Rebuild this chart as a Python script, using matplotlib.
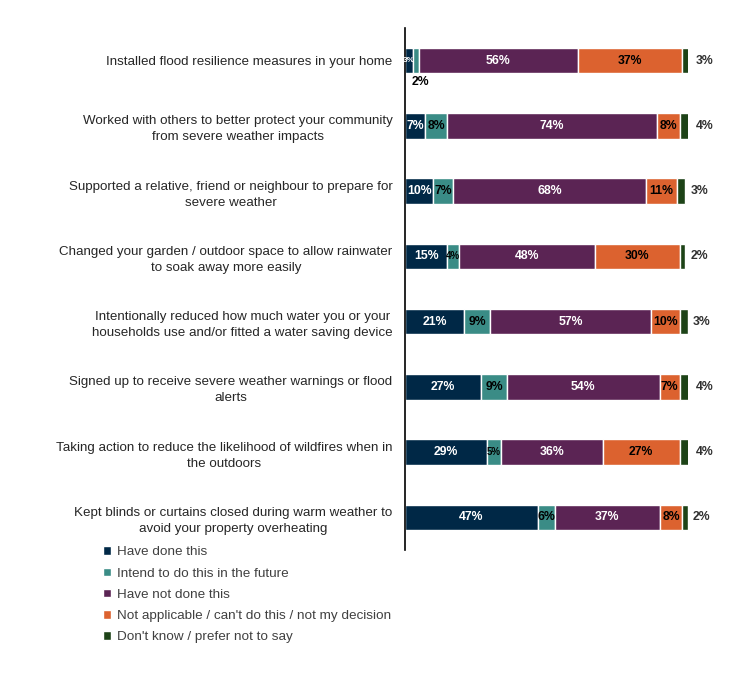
import matplotlib
matplotlib.use("Agg")
import matplotlib.pyplot as plt
import numpy as np

plt.rcParams['font.family'] = ['Liberation Sans', 'DejaVu Sans']

categories = [
    "Installed flood resilience measures in your home",
    "Worked with others to better protect your community\nfrom severe weather impacts",
    "Supported a relative, friend or neighbour to prepare for\nsevere weather",
    "Changed your garden / outdoor space to allow rainwater\nto soak away more easily",
    "Intentionally reduced how much water you or your\nhouseholds use and/or fitted a water saving device",
    "Signed up to receive severe weather warnings or flood\nalerts",
    "Taking action to reduce the likelihood of wildfires when in\nthe outdoors",
    "Kept blinds or curtains closed during warm weather to\navoid your property overheating",
]
series_names = [
    "Have done this",
    "Intend to do this in the future",
    "Have not done this",
    "Not applicable / can't do this / not my decision",
    "Don't know / prefer not to say",
]
have_done = [3, 7, 10, 15, 21, 27, 29, 47]
intend = [2, 8, 7, 4, 9, 9, 5, 6]
not_done = [56, 74, 68, 48, 57, 54, 36, 37]
not_applicable = [37, 8, 11, 30, 10, 7, 27, 8]
dont_know = [3, 4, 3, 2, 3, 4, 4, 2]

colors = ["#002846", "#3A8C86", "#5B2454", "#DC622F", "#1D4317"]
label_colors = ["white", "black", "white", "black", None]

series = [have_done, intend, not_done, not_applicable, dont_know]

fig = plt.figure(figsize=(7.49, 6.82), dpi=100)
ax = fig.add_axes([405/749, 1-550/682, 283/749, (550-28)/682])

y = np.arange(len(categories))
left = np.zeros(len(categories))
bar_h = 0.39
for si, (vals, col, name) in enumerate(zip(series, colors, series_names)):
    vals = np.array(vals, dtype=float)
    ax.barh(y, vals, left=left, height=bar_h, color=col, edgecolor="white",
            linewidth=1.0, label=name)
    for i, v in enumerate(vals):
        cx = left[i] + v / 2
        txt = f"{int(v)}%"
        if si == 4:
            ax.text(left[i] + v + 1.8, y[i], txt, ha="left", va="center",
                    fontsize=8.8, fontweight="bold", color="#303030", clip_on=False)
        elif si == 1 and i == 0:
            ax.text(cx + 1.5, y[i] + 0.33, txt, ha="center", va="center",
                    fontsize=8.8, fontweight="bold", color="black")
        else:
            fs = 8.8
            if v <= 3:
                fs = 6
            elif v <= 5:
                fs = 7
            ax.text(cx, y[i], txt, ha="center", va="center", fontsize=fs,
                    fontweight="bold", color=label_colors[si])
    left += vals

ax.set_xlim(0, 100)
ax.set_ylim(7.5, -0.5)
ax.set_yticks(y)
ax.set_yticklabels(categories, fontsize=9.6, color="#262626", linespacing=1.45)
ax.tick_params(axis="y", length=0, pad=9)
ax.set_xticks([])
for s in ["top", "right", "bottom"]:
    ax.spines[s].set_visible(False)
ax.spines["left"].set_color("black")
ax.spines["left"].set_linewidth(1.2)
for lbl in ax.get_yticklabels():
    lbl.set_multialignment("center")

leg = fig.legend(loc="upper left", bbox_to_anchor=(98/749, 1-541/682),
                 frameon=False, fontsize=9.7, handlelength=0.6, handleheight=0.6,
                 handletextpad=0.4, labelspacing=0.68, borderaxespad=0)
for t in leg.get_texts():
    t.set_color("#404040")

fig.savefig("out.png", dpi=100)
